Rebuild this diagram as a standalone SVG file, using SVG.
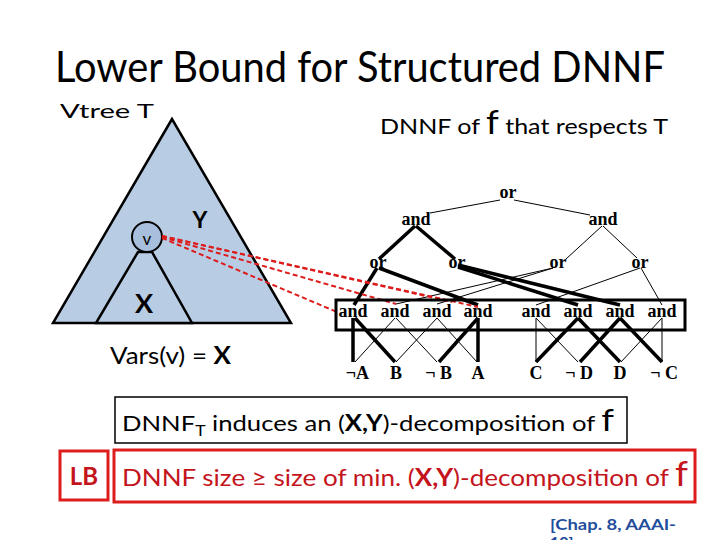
<svg xmlns="http://www.w3.org/2000/svg" width="720" height="540" viewBox="0 0 720 540">
<style>
.sans{font-family:Lato,"Open Sans","Liberation Sans",sans-serif;}
.g{font-family:"Liberation Serif","Times New Roman",serif;font-weight:bold;font-size:18px;fill:#000;text-anchor:middle;}
.t{stroke:#000;stroke-width:1;fill:none;}
.k{stroke:#000;stroke-width:3.5;fill:none;}
.r{stroke:#dd1c1c;stroke-width:2;stroke-dasharray:5 3;fill:none;}
.tri{fill:#b8cce4;stroke:#000;stroke-width:2.5;stroke-linejoin:miter;}
.red{fill:#c4141c;}
</style>
<rect width="720" height="540" fill="#fff"/>
<text class="sans" x="360" y="82" font-size="42" text-anchor="middle" textLength="610" lengthAdjust="spacingAndGlyphs">Lower Bound for Structured DNNF</text>
<text class="sans" x="60" y="118" font-size="19" textLength="94" lengthAdjust="spacingAndGlyphs">Vtree T</text>
<text class="sans" x="380" y="134" font-size="22" textLength="288" lengthAdjust="spacingAndGlyphs">DNNF of <tspan font-size="32">f</tspan> that respects T</text>

<g id="vtree">
<polygon class="tri" points="172,119 53,323 291,323"/>
<polygon class="tri" points="138,252 152,252 192,323 96,323"/>
<text class="sans" x="144" y="313" font-size="27" font-weight="bold" text-anchor="middle">X</text>
<text class="sans" x="200" y="228" font-size="23" font-weight="bold" text-anchor="middle">Y</text>
</g>
<g id="node-v">
<circle cx="147" cy="237" r="15" fill="#a7bedc" stroke="#000" stroke-width="2"/>
<text class="sans" x="147" y="245" font-size="17" text-anchor="middle">v</text>
</g>
<text class="sans" x="110" y="364" font-size="24" textLength="121" lengthAdjust="spacingAndGlyphs">Vars(v) = <tspan font-weight="bold">X</tspan></text>

<g id="connectors">
<line class="t" x1="500" y1="200" x2="430" y2="213"/>
<line class="t" x1="514" y1="200" x2="590" y2="215"/>
<line class="k" x1="415" y1="226" x2="379" y2="259"/>
<line class="k" x1="416" y1="226" x2="455" y2="259"/>
<line class="t" x1="602" y1="226" x2="566" y2="259"/>
<line class="t" x1="603" y1="226" x2="637" y2="258"/>
<line class="k" x1="377" y1="268" x2="354" y2="305"/>
<line class="k" x1="379" y1="268" x2="478" y2="305"/>
<line class="k" x1="458" y1="267" x2="578" y2="305"/>
<line class="k" x1="458" y1="265" x2="620" y2="305"/>
<line class="t" x1="553" y1="268" x2="396" y2="304"/>
<line class="t" x1="553" y1="268" x2="437" y2="304"/>
<line class="t" x1="640" y1="268" x2="536" y2="305"/>
<line class="t" x1="641" y1="268" x2="662" y2="305"/>
<line class="k" x1="353" y1="318" x2="353" y2="362"/>
<line class="k" x1="355" y1="318" x2="395" y2="362"/>
<line class="k" x1="478" y1="318" x2="439" y2="362"/>
<line class="k" x1="478" y1="318" x2="478" y2="362"/>
<line class="k" x1="578" y1="318" x2="536" y2="362"/>
<line class="k" x1="578" y1="318" x2="620" y2="362"/>
<line class="k" x1="620" y1="318" x2="580" y2="362"/>
<line class="k" x1="620" y1="318" x2="662" y2="362"/>
<line class="t" x1="395" y1="318" x2="355" y2="362"/>
<line class="t" x1="396" y1="318" x2="437" y2="362"/>
<line class="t" x1="437" y1="318" x2="396" y2="362"/>
<line class="t" x1="437" y1="318" x2="477" y2="362"/>
<line class="t" x1="536" y1="318" x2="536" y2="362"/>
<line class="t" x1="536" y1="318" x2="578" y2="362"/>
<line class="t" x1="662" y1="318" x2="621" y2="362"/>
<line class="t" x1="662" y1="318" x2="662" y2="362"/>
<line class="r" x1="162" y1="238" x2="337" y2="312"/>
<line class="r" x1="162" y1="237" x2="396" y2="304"/>
<line class="r" x1="162" y1="236" x2="452" y2="302"/>
<line class="r" x1="162" y1="236" x2="478" y2="307"/>
</g>

<g id="dnnf-or-root"><text class="g" x="508" y="198">or</text></g>
<g id="dnnf-and-l"><text class="g" x="416" y="225">and</text></g>
<g id="dnnf-and-r"><text class="g" x="603" y="225">and</text></g>
<g id="dnnf-or1"><text class="g" x="378" y="268">or</text></g>
<g id="dnnf-or2"><text class="g" x="457" y="268">or</text></g>
<g id="dnnf-or3"><text class="g" x="558" y="268">or</text></g>
<g id="dnnf-or4"><text class="g" x="640" y="268">or</text></g>
<g id="and-row">
<rect x="336" y="300" width="349" height="30" fill="none" stroke="#000" stroke-width="3"/>
<text class="g" x="353" y="317">and</text>
<text class="g" x="395" y="317">and</text>
<text class="g" x="437" y="317">and</text>
<text class="g" x="478" y="317">and</text>
<text class="g" x="536" y="317">and</text>
<text class="g" x="578" y="317">and</text>
<text class="g" x="620" y="317">and</text>
<text class="g" x="662" y="317">and</text>
</g>
<g id="literals">
<text class="g" x="369" y="379" style="text-anchor:end">¬A</text>
<text class="g" x="396" y="379">B</text>
<text class="g" x="452" y="379" style="text-anchor:end">¬ B</text>
<text class="g" x="478" y="379">A</text>
<text class="g" x="536" y="379">C</text>
<text class="g" x="593" y="379" style="text-anchor:end">¬ D</text>
<text class="g" x="620" y="379">D</text>
<text class="g" x="678" y="379" style="text-anchor:end">¬ C</text>
</g>

<g id="statement">
<rect x="115" y="397" width="512" height="46" fill="#fff" stroke="#000" stroke-width="1.5"/>
<text class="sans" x="122" y="431" font-size="22" textLength="492" lengthAdjust="spacingAndGlyphs">DNNF<tspan font-size="15" dy="5">T</tspan><tspan dy="-5"> induces an (</tspan><tspan font-weight="bold">X,Y</tspan>)-decomposition of <tspan font-size="31">f</tspan></text>
</g>
<g id="lb">
<rect x="60" y="451" width="48" height="49" fill="#fff" stroke="#dd1c1c" stroke-width="3"/>
<text class="sans red" x="84" y="485" font-size="24" font-weight="bold" text-anchor="middle">LB</text>
</g>
<g id="bound">
<rect x="114" y="450" width="581" height="52" fill="#fff" stroke="#dd1c1c" stroke-width="3"/>
<text class="sans red" x="122" y="486" font-size="24" textLength="566" lengthAdjust="spacingAndGlyphs">DNNF size ≥  size of min. (<tspan font-weight="bold">X,Y</tspan>)-decomposition of <tspan font-size="34">f</tspan></text>
</g>
<text class="sans" x="550" y="530" font-size="16" font-weight="bold" fill="#1f4e9c" textLength="126" lengthAdjust="spacingAndGlyphs">[Chap. 8, AAAI-</text>
<text class="sans" x="550" y="548" font-size="16" font-weight="bold" fill="#1f4e9c">10]</text>
</svg>
